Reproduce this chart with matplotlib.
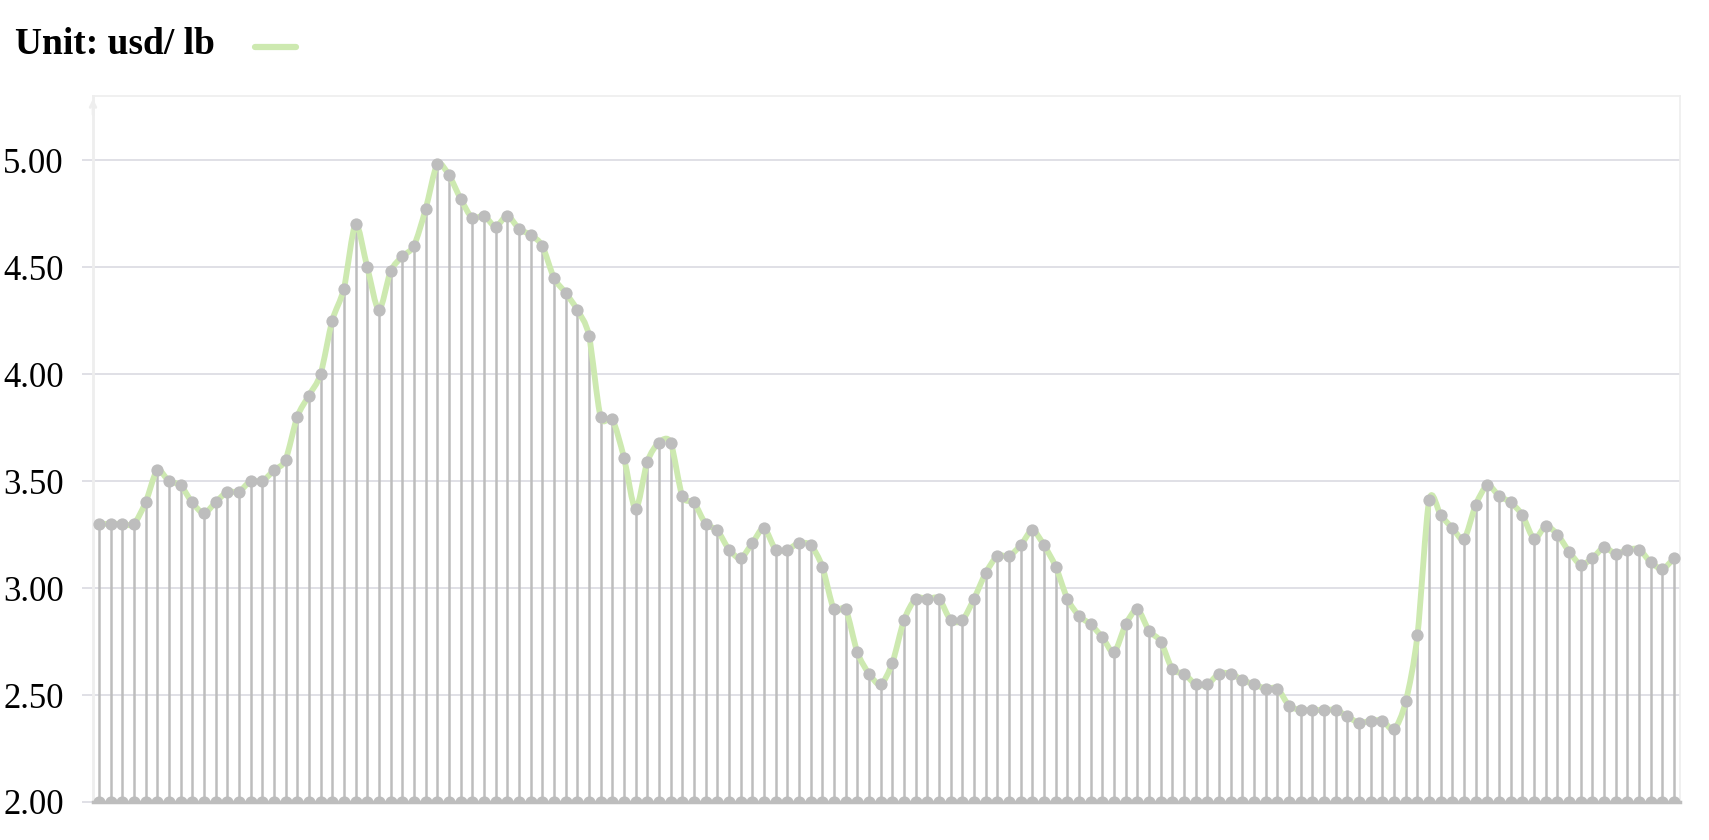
import matplotlib
matplotlib.use("Agg")
import matplotlib.pyplot as plt
from matplotlib.path import Path
from matplotlib.patches import PathPatch
from matplotlib.lines import Line2D
import numpy as np

# fiyat serisi (usd / lb), 136 nokta
prices = [
    3.30, 3.30, 3.30, 3.30, 3.40, 3.55, 3.50, 3.48, 3.40, 3.35,
    3.40, 3.45, 3.45, 3.50, 3.50, 3.55, 3.60, 3.80, 3.90, 4.00,
    4.25, 4.40, 4.70, 4.50, 4.30, 4.48, 4.55, 4.60, 4.77, 4.98,
    4.93, 4.82, 4.73, 4.74, 4.69, 4.74, 4.68, 4.65, 4.60, 4.45,
    4.38, 4.30, 4.18, 3.80, 3.79, 3.61, 3.37, 3.59, 3.68, 3.68,
    3.43, 3.40, 3.30, 3.27, 3.18, 3.14, 3.21, 3.28, 3.18, 3.18,
    3.21, 3.20, 3.10, 2.90, 2.90, 2.70, 2.60, 2.55, 2.65, 2.85,
    2.95, 2.95, 2.95, 2.85, 2.85, 2.95, 3.07, 3.15, 3.15, 3.20,
    3.27, 3.20, 3.10, 2.95, 2.87, 2.83, 2.77, 2.70, 2.83, 2.90,
    2.80, 2.75, 2.62, 2.60, 2.55, 2.55, 2.60, 2.60, 2.57, 2.55,
    2.53, 2.53, 2.45, 2.43, 2.43, 2.43, 2.43, 2.40, 2.37, 2.38,
    2.38, 2.34, 2.47, 2.78, 3.41, 3.34, 3.28, 3.23, 3.39, 3.48,
    3.43, 3.40, 3.34, 3.23, 3.29, 3.25, 3.17, 3.11, 3.14, 3.19,
    3.16, 3.18, 3.18, 3.12, 3.09, 3.14,
]
y_ticks = [2.0, 2.5, 3.0, 3.5, 4.0, 4.5, 5.0]
unit_label = "Unit: usd/ lb"

gray = "#bdbdbd"
green = "#cde9b0"
grid = "#e0e0e6"

fig = plt.figure(figsize=(17.09, 8.40), dpi=100)
ax = fig.add_axes([93 / 1709, 1 - 802 / 840, (1680 - 93) / 1709, (802 - 96) / 840])

x = np.arange(len(prices))
y = np.array(prices)
base = 2.0

# yumusak cizgi (bezier)
t = 0.14
verts = [(x[0], y[0])]
codes = [Path.MOVETO]
for i in range(len(x) - 1):
    p0 = np.array([x[max(i - 1, 0)], y[max(i - 1, 0)]])
    p1 = np.array([x[i], y[i]])
    p2 = np.array([x[i + 1], y[i + 1]])
    p3 = np.array([x[min(i + 2, len(x) - 1)], y[min(i + 2, len(x) - 1)]])
    c1 = p1 + (p2 - p0) * t
    c2 = p2 - (p3 - p1) * t
    verts += [tuple(c1), tuple(c2), tuple(p2)]
    codes += [Path.CURVE4] * 3
ax.add_patch(PathPatch(Path(verts, codes), facecolor="none", edgecolor=green,
                       lw=4.2, capstyle="round", joinstyle="round", zorder=3))

ax.vlines(x, base, y, color=gray, lw=1.8, zorder=2)
ax.scatter(x, y, s=78, color=gray, zorder=4, linewidths=0)
ax.scatter(x, np.full(len(x), base), s=78, color=gray, zorder=4, linewidths=0)

ax.set_xlim(-0.5, len(x) - 0.5)
ax.set_ylim(base, 5.3)
ax.set_yticks(y_ticks)
ax.set_yticklabels(["%.2f" % v for v in y_ticks], fontsize=25, family="Liberation Serif")
ax.set_xticks([])
ax.grid(axis="y", color=grid, lw=1.4, zorder=0)
ax.set_axisbelow(True)
ax.tick_params(axis="y", length=8, width=1.4, color=grid, pad=13)

for s in ["top", "right"]:
    ax.spines[s].set_color("#eeeeee")
    ax.spines[s].set_linewidth(1.2)
ax.spines["left"].set_color("#eeeeee")
ax.spines["left"].set_linewidth(2)
ax.spines["bottom"].set_color(gray)
ax.spines["bottom"].set_linewidth(2.5)
ax.annotate("", xy=(0, 1.0), xytext=(0, 0.97), xycoords="axes fraction",
            arrowprops=dict(arrowstyle="->", color="#eeeeee", lw=2))

# ust sol etiket + yesil cizgi
fig.text(15 / 1709, 1 - 44 / 840, unit_label, fontsize=27, fontweight="bold",
         family="Liberation Serif", va="center", ha="left")
fig.add_artist(Line2D([255 / 1709, 296 / 1709], [1 - 47 / 840, 1 - 47 / 840],
                      color=green, lw=4.5, solid_capstyle="round"))

fig.savefig("out.png", dpi=100, facecolor="white")
